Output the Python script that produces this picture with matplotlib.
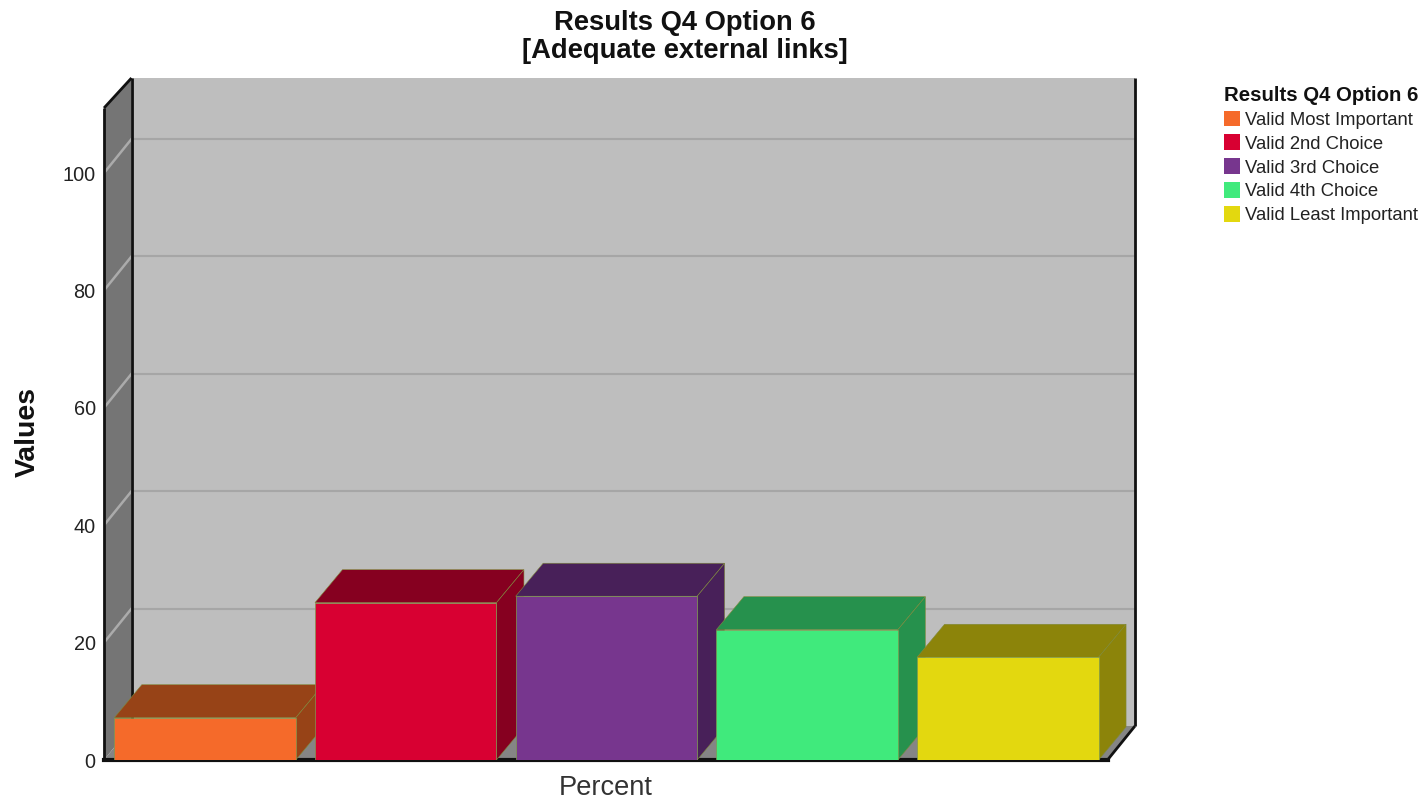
import matplotlib
matplotlib.use('Agg')
import matplotlib.pyplot as plt
from matplotlib.patches import Patch, Polygon

plt.rcParams['font.family'] = ['Liberation Sans', 'DejaVu Sans']

# ── Data ─────────────────────────────────────────────────────────────────
categories = ['Valid Most Important', 'Valid 2nd Choice', 'Valid 3rd Choice',
              'Valid 4th Choice', 'Valid Least Important']
values = [7.2, 26.8, 27.9, 22.2, 17.5]
y_ticks = [0, 20, 40, 60, 80, 100]

front_colors = ['#F56A2A', '#D80032', '#77368E', '#40EA7C', '#E3D80F']
shade_colors = ['#974317', '#860020', '#482059', '#26914D', '#8C840A']

# ── Layout ───────────────────────────────────────────────────────────────
W, H = 1424, 801
left, right, bottom, top = 104, 1135, 760, 78
px_per_unit_y = 5.87
px_per_cat = 200.7

fig = plt.figure(figsize=(W / 100, H / 100), dpi=100)
ax = fig.add_axes([left / W, 1 - bottom / H, (right - left) / W, (bottom - top) / H])

x_min = -(205 - left) / px_per_cat
x_max = (right - 205) / px_per_cat
y_max = (bottom - top) / px_per_unit_y
ax.set_xlim(x_min, x_max)
ax.set_ylim(0, y_max)

# depth of the 3D effect, in data units
dx = 27.5 / px_per_cat
dy = 34 / px_per_unit_y
bar_dy = 33 / px_per_unit_y
bar_w = 181.5 / px_per_cat
x_front_end = x_max - dx
y_front_top = (bottom - 108) / px_per_unit_y

# ── Walls and floor ──────────────────────────────────────────────────────
ax.set_facecolor('none')
ax.add_patch(Polygon([(x_min + dx, dy), (x_max, dy), (x_max, y_max), (x_min + dx, y_max)],
                     fc='#BEBEBE', ec='none', zorder=1))
ax.add_patch(Polygon([(x_min, 0), (x_min + dx, dy), (x_min + dx, y_max), (x_min, y_front_top)],
                     fc='#757575', ec='none', zorder=1))
ax.add_patch(Polygon([(x_min, 0), (x_front_end, 0), (x_max, dy), (x_min + dx, dy)],
                     fc='#858585', ec='none', zorder=1))

# gridlines on the back wall and the side wall
for t in y_ticks[1:]:
    ax.plot([x_min + dx, x_max], [t + dy, t + dy], color='#A6A6A6', lw=1.5, zorder=2)
    ax.plot([x_min, x_min + dx], [t, t + dy], color='#ABABAB', lw=1.8, zorder=2)

# frame edges
edge = dict(color='#111111', lw=2, zorder=3, clip_on=False, solid_capstyle='butt')
ax.plot([x_min, x_min], [0, y_front_top], **edge)
ax.plot([x_min, x_min + dx], [y_front_top, y_max], **edge)
ax.plot([x_min + dx, x_min + dx], [dy, y_max], **edge)
ax.plot([x_max, x_max], [dy, y_max], **edge)
ax.plot([x_min, x_front_end], [0, 0], color='#111111', lw=3, zorder=3, clip_on=False)
ax.plot([x_front_end, x_max], [0, dy], **edge)

# ── Bars ─────────────────────────────────────────────────────────────────
for i, (v, fc, sc) in enumerate(zip(values, front_colors, shade_colors)):
    x0 = i - bar_w / 2
    x1 = i + bar_w / 2
    ax.add_patch(Polygon([(x0, v), (x1, v), (x1 + dx, v + bar_dy), (x0 + dx, v + bar_dy)],
                         fc=sc, ec='#7F8A3A', lw=0.4, zorder=4 + i))
    ax.add_patch(Polygon([(x1, 0), (x1 + dx, bar_dy), (x1 + dx, v + bar_dy), (x1, v)],
                         fc=sc, ec='#7F8A3A', lw=0.4, zorder=4 + i))
    ax.bar(i, v, width=bar_w, color=fc, edgecolor='#7F9A50', linewidth=0.5, zorder=4 + i)

# ── Axes text ────────────────────────────────────────────────────────────
for s in ax.spines.values():
    s.set_visible(False)
ax.set_xticks([])
ax.set_yticks(y_ticks)
ax.tick_params(axis='y', length=0, pad=6, labelsize=14.3, labelcolor='#222222')

ax.set_xlabel('Percent', fontsize=19.6, color='#333333')
ax.xaxis.set_label_coords((606 - left) / (right - left), -(775 - bottom) / (bottom - top))
ax.xaxis.label.set_va('top')
fig.text(28 / W, 1 - 432 / H, 'Values', rotation=90, fontsize=20.4, fontweight='bold',
         color='#111111', ha='center', va='center')

fig.text(685 / W, 1 - 37 / H, 'Results Q4 Option 6\n[Adequate external links]',
         fontsize=19.7, fontweight='bold', color='#111111', ha='center', va='center',
         linespacing=1.12)

# ── Legend ───────────────────────────────────────────────────────────────
handles = [Patch(fc=c, ec='none', label=n) for c, n in zip(front_colors, categories)]
leg = fig.legend(handles=handles, title='Results Q4 Option 6', loc='upper left',
                 bbox_to_anchor=(1224 / W, 1 - 86 / H), frameon=False,
                 fontsize=13.3, handlelength=0.85, handleheight=0.95, handletextpad=0.3,
                 labelspacing=0.3, borderpad=0, borderaxespad=0, alignment='left',
                 title_fontproperties={'size': 14.7, 'weight': 'bold'})
leg.get_title().set_color('#111111')
for txt in leg.get_texts():
    txt.set_color('#222222')

fig.savefig('out.png', dpi=100)
